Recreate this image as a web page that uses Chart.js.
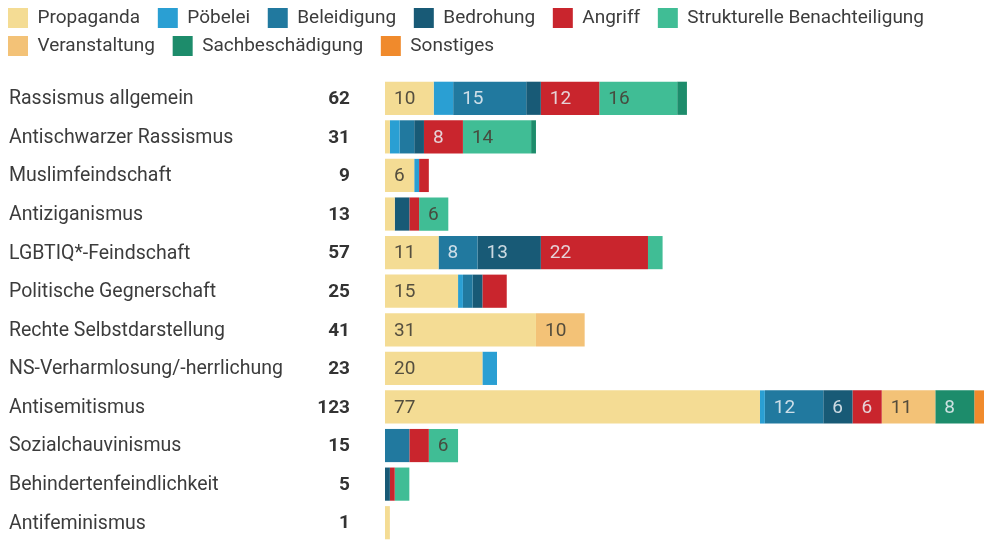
<!DOCTYPE html>
<html><head><meta charset="utf-8">
<script src="https://cdn.jsdelivr.net/npm/chart.js@4/dist/chart.umd.min.js"></script>
<style>html,body{margin:0;padding:0;background:#fff}#wrap{width:987px;height:542px;position:relative}</style>
</head><body><div id="wrap"><canvas id="c"></canvas></div>
<script>
const categories = ["Rassismus allgemein","Antischwarzer Rassismus","Muslimfeindschaft","Antiziganismus","LGBTIQ*-Feindschaft","Politische Gegnerschaft","Rechte Selbstdarstellung","NS-Verharmlosung/-herrlichung","Antisemitismus","Sozialchauvinismus","Behindertenfeindlichkeit","Antifeminismus"];
const seriesNames = ["Propaganda","Pöbelei","Beleidigung","Bedrohung","Angriff","Strukturelle Benachteiligung","Veranstaltung","Sachbeschädigung","Sonstiges"];
const propaganda        = [10, 1, 6, 2, 11, 15, 31, 20, 77, 0, 0, 1];
const poebelei          = [ 4, 2, 1, 0,  0,  1,  0,  3,  1, 0, 0, 0];
const beleidigung       = [15, 3, 0, 0,  8,  2,  0,  0, 12, 5, 0, 0];
const bedrohung         = [ 3, 2, 0, 3, 13,  2,  0,  0,  6, 0, 1, 0];
const angriff           = [12, 8, 2, 2, 22,  5,  0,  0,  6, 4, 1, 0];
const strukturelle      = [16,14, 0, 6,  3,  0,  0,  0,  0, 6, 3, 0];
const veranstaltung     = [ 0, 0, 0, 0,  0,  0, 10,  0, 11, 0, 0, 0];
const sachbeschaedigung = [ 2, 1, 0, 0,  0,  0,  0,  0,  8, 0, 0, 0];
const sonstiges         = [ 0, 0, 0, 0,  0,  0,  0,  0,  2, 0, 0, 0];
const totals            = [62, 31, 9, 13, 57, 25, 41, 23, 123, 15, 5, 1];

const seriesData = [propaganda,poebelei,beleidigung,bedrohung,angriff,strukturelle,veranstaltung,sachbeschaedigung,sonstiges];
const colors = ["#f4dc94","#2a9fd3","#21799f","#185a76","#c9252d","#40bd95","#f3c277","#1d8c6b","#f08a2c"];
const lightBg = [true,false,false,false,false,true,true,false,false];

const FONT = "Roboto";

const labelPlugin = {
  id: 'customLabels',
  afterDatasetsDraw(chart) {
    const ctx = chart.ctx;
    const y = chart.scales.y;
    ctx.save();
    ctx.textBaseline = 'middle';
    // segment values
    ctx.font = "400 19px " + FONT;
    ctx.textAlign = 'left';
    chart.data.datasets.forEach((ds, di) => {
      const meta = chart.getDatasetMeta(di);
      meta.data.forEach((el, i) => {
        const v = ds.data[i];
        if (v >= 6) {
          const left = Math.min(el.base, el.x);
          ctx.fillStyle = lightBg[di] ? "rgba(70,66,55,0.92)" : "rgba(235,240,244,0.85)";
          ctx.fillText(String(v), left + 9, el.y + 1);
        }
      });
    });
    // category labels
    ctx.font = "400 19.5px " + FONT;
    ctx.fillStyle = "#3c3c3c";
    ctx.textAlign = 'left';
    categories.forEach((c, i) => {
      ctx.fillText(c, 9, y.getPixelForValue(i) + 1);
    });
    // totals
    ctx.font = "700 19px " + FONT;
    ctx.fillStyle = "#333333";
    ctx.textAlign = 'right';
    totals.forEach((t, i) => {
      ctx.fillText(String(t), 350, y.getPixelForValue(i) + 1);
    });
    ctx.restore();
  }
};

new Chart(document.getElementById('c'), {
  type: 'bar',
  data: {
    labels: categories,
    datasets: seriesNames.map((n, i) => ({
      label: n,
      data: seriesData[i],
      backgroundColor: colors[i],
      borderWidth: 0,
      barPercentage: 0.86,
      categoryPercentage: 1.0
    }))
  },
  options: {
    indexAxis: 'y',
    responsive: true,
    maintainAspectRatio: false,
    animation: false,
    devicePixelRatio: 1,
    layout: { padding: { left: 0, right: 3, top: 0, bottom: 0 } },
    scales: {
      x: {
        stacked: true, min: 0, max: 123, position: 'top',
        ticks: { display: false }, grid: { display: false }, border: { display: false },
        afterFit(s) { s.height = 13; }
      },
      y: {
        stacked: true,
        ticks: { display: false }, grid: { display: false }, border: { display: false },
        afterFit(s) { s.width = 385; }
      }
    },
    plugins: {
      legend: {
        position: 'top', align: 'start',
        labels: {
          boxWidth: 20, boxHeight: 20, padding: 8,
          color: '#3c3c3c',
          font: { family: FONT, size: 19 },
          generateLabels(chart) {
            const def = Chart.defaults.plugins.legend.labels.generateLabels(chart);
            return def.map(l => Object.assign(l, { text: l.text + '\u2002', lineWidth: 0 }));
          }
        }
      },
      tooltip: { enabled: false }
    }
  },
  plugins: [labelPlugin]
});
</script>
</body></html>
